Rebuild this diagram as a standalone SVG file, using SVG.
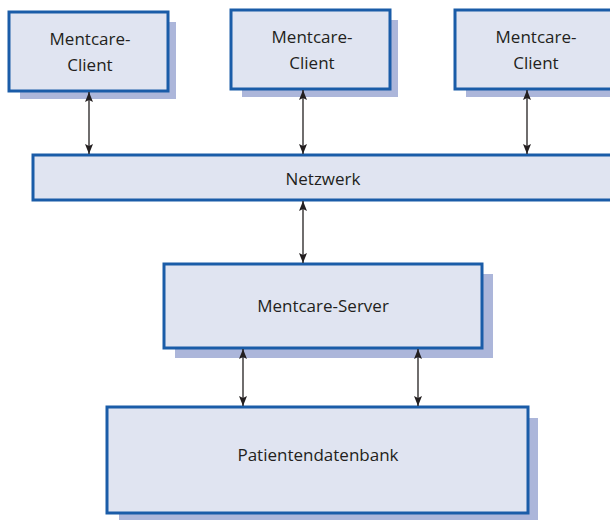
<svg xmlns="http://www.w3.org/2000/svg" width="610" height="520" viewBox="0 0 610 520">
  <style>
    .shadow { fill: #acb6da; }
    .box { fill: #e0e4f1; stroke: #1a5ca8; stroke-width: 3; }
    .label { font-family: "Open Sans", "Liberation Sans", sans-serif; font-size: 17px; fill: #231f20; text-anchor: middle; }
    .link { stroke: #231f20; stroke-width: 1.3; fill: none; marker-start: url(#head); marker-end: url(#head); }
  </style>
  <defs>
    <marker id="head" viewBox="0 0 10 10" refX="10" refY="5" markerWidth="10" markerHeight="10" markerUnits="userSpaceOnUse" orient="auto-start-reverse">
      <path d="M0,1 L10,5 L0,9 L2,5 Z" fill="#231f20"/>
    </marker>
  </defs>
  <rect width="610" height="520" fill="#ffffff"/>

  <g id="client1">
    <rect class="shadow" x="20" y="22" width="156" height="77"/>
    <rect class="box" x="9" y="12" width="159" height="79"/>
    <text class="label" x="90" y="45">Mentcare-</text>
    <text class="label" x="90" y="71">Client</text>
  </g>

  <g id="client2">
    <rect class="shadow" x="242" y="20" width="156" height="77"/>
    <rect class="box" x="231" y="10" width="159" height="79"/>
    <text class="label" x="312" y="43">Mentcare-</text>
    <text class="label" x="312" y="69">Client</text>
  </g>

  <g id="client3">
    <rect class="shadow" x="466" y="20" width="156" height="77"/>
    <rect class="box" x="455" y="10" width="159" height="79"/>
    <text class="label" x="536" y="43">Mentcare-</text>
    <text class="label" x="536" y="69">Client</text>
  </g>

  <g id="netzwerk">
    <rect class="box" x="33" y="155" width="585" height="45"/>
    <text class="label" x="323" y="185">Netzwerk</text>
  </g>

  <g id="server">
    <rect class="shadow" x="175" y="274" width="318" height="84"/>
    <rect class="box" x="164" y="264" width="318" height="84"/>
    <text class="label" x="323" y="312">Mentcare-Server</text>
  </g>

  <g id="datenbank">
    <rect class="shadow" x="119" y="418" width="419" height="104"/>
    <rect class="box" x="107" y="407" width="421" height="106"/>
    <text class="label" x="318" y="461">Patientendatenbank</text>
  </g>

  <g id="connectors">
    <line class="link" x1="89" y1="92" x2="89" y2="154"/>
    <line class="link" x1="303" y1="90" x2="303" y2="154"/>
    <line class="link" x1="527" y1="90" x2="527" y2="154"/>
    <line class="link" x1="303" y1="201" x2="303" y2="263"/>
    <line class="link" x1="243" y1="349" x2="243" y2="406"/>
    <line class="link" x1="418" y1="349" x2="418" y2="406"/>
  </g>
</svg>
